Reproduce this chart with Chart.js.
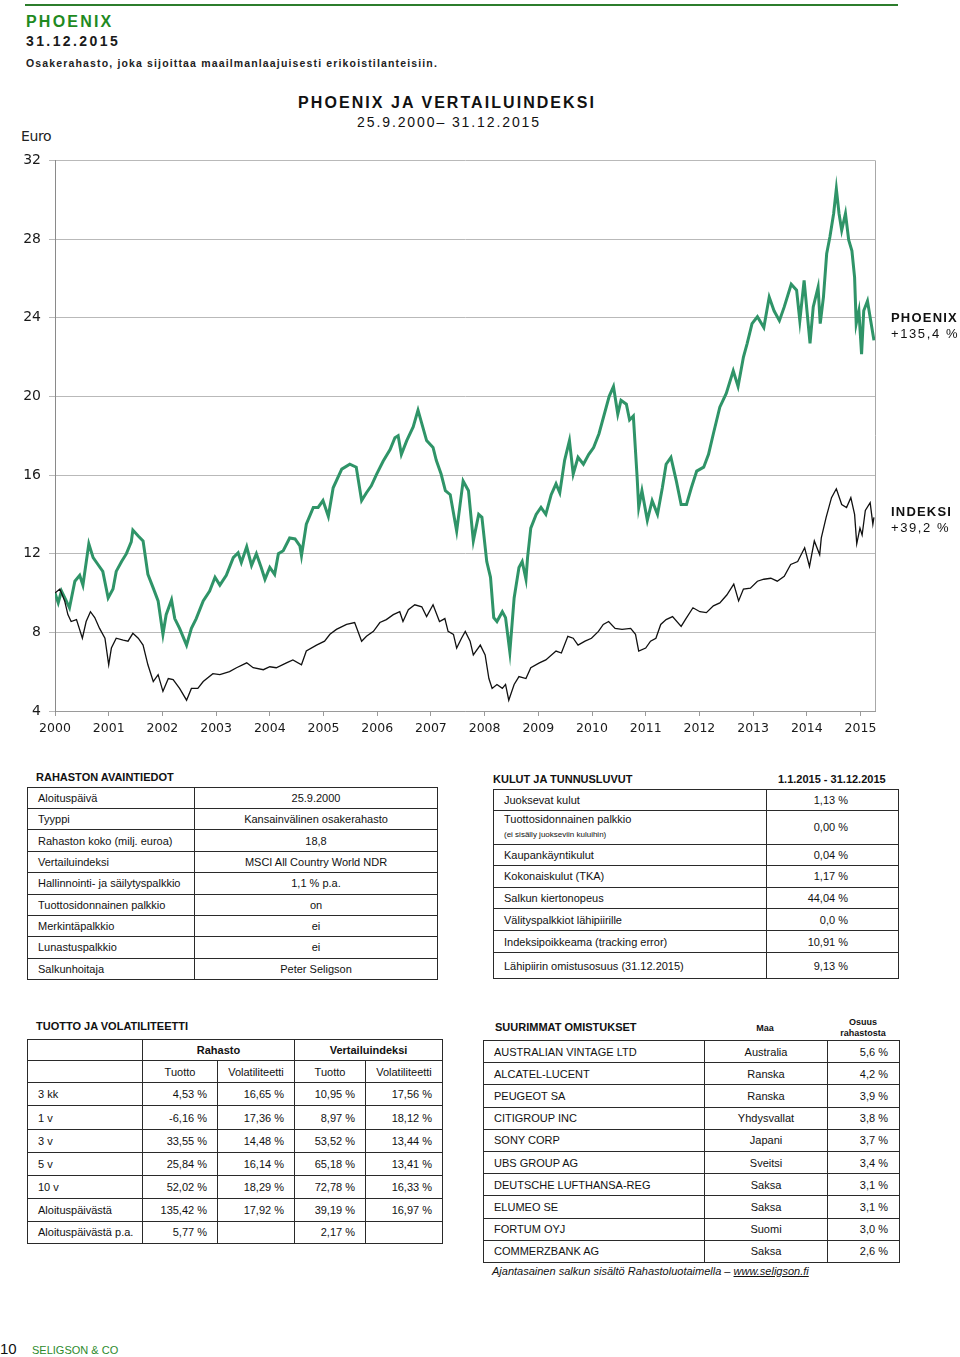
<!DOCTYPE html>
<html lang="fi">
<head>
<meta charset="utf-8">
<title>Phoenix 31.12.2015</title>
<script src="https://cdn.jsdelivr.net/npm/chart.js@4.4.1/dist/chart.umd.min.js"></script>
<style>
  html, body { margin: 0; padding: 0; background: #fff; }
  body { width: 960px; height: 1357px; position: relative; overflow: hidden; font-family: "Liberation Sans", Arial, sans-serif; color: #111; }
  .abs { position: absolute; white-space: nowrap; }
  .topline { left: 25px; top: 4px; width: 873px; height: 2px; background: #2c7d2c; }
  .fund { left: 26px; top: 13px; font-size: 16px; font-weight: bold; color: #1f8a1f; letter-spacing: 2.2px; }
  .date { left: 26px; top: 33px; font-size: 14px; font-weight: bold; color: #1a1a1a; letter-spacing: 2.4px; }
  .sub { left: 26px; top: 57px; font-size: 10.5px; font-weight: bold; color: #222; letter-spacing: 1.15px; }
  .title { left: 0; width: 894px; text-align: center; top: 94px; font-size: 16px; font-weight: bold; letter-spacing: 2.05px; color: #111; }
  .period { left: 0; width: 898px; text-align: center; top: 114px; font-size: 14px; letter-spacing: 1.9px; color: #111; }
  .euro { left: 21px; top: 128px; font-family: "DejaVu Sans", Verdana, sans-serif; font-size: 14px; color: #222; letter-spacing: -0.4px; }
  .serName { left: 891px; font-size: 13px; font-weight: bold; letter-spacing: 1.2px; color: #111; }
  .serVal { left: 891px; font-size: 13px; letter-spacing: 1.6px; color: #111; }
  #chartBox { position: absolute; left: 0; top: 144px; width: 960px; height: 596px; }
  .thead { font-size: 11px; font-weight: bold; color: #111; }
  table.t { position: absolute; border-collapse: collapse; table-layout: fixed; font-size: 11px; color: #111; }
  table.t td { border: 1.5px solid #2a2a2a; padding: 0 10px; overflow: hidden; white-space: nowrap; }
  td.c { text-align: center; }
  td.r { text-align: right; }
  td.b { font-weight: bold; }
  .small { font-size: 8px; }
  .foot { left: 492px; top: 1265px; font-size: 11px; font-style: italic; color: #111; }
  .foot u { text-decoration: underline; }
  .pageNo { left: 0; top: 1340px; font-size: 15px; color: #111; }
  .brand { left: 32px; top: 1344px; font-size: 11px; color: #2c8a2c; }
</style>
</head>
<body>
<div class="abs topline"></div>
<div class="abs fund">PHOENIX</div>
<div class="abs date">31.12.2015</div>
<div class="abs sub">Osakerahasto, joka sijoittaa maailmanlaajuisesti erikoistilanteisiin.</div>
<div class="abs title">PHOENIX JA VERTAILUINDEKSI</div>
<div class="abs period">25.9.2000– 31.12.2015</div>
<div class="abs euro">Euro</div>
<div id="chartBox"><canvas id="chart" width="960" height="596"></canvas></div>
<div class="abs serName" style="top:310px">PHOENIX</div>
<div class="abs serVal" style="top:326px">+135,4 %</div>
<div class="abs serName" style="top:504px">INDEKSI</div>
<div class="abs serVal" style="top:520px">+39,2 %</div>

<div class="abs thead" style="left:36px;top:771px">RAHASTON AVAINTIEDOT</div>
<table class="t" id="keyTable" style="left:27px;top:787px;width:410px"></table>

<div class="abs thead" style="left:493px;top:773px">KULUT JA TUNNUSLUVUT</div>
<div class="abs thead" style="left:778px;top:773px">1.1.2015 - 31.12.2015</div>
<table class="t" id="costTable" style="left:493px;top:789px;width:405px"></table>

<div class="abs thead" style="left:36px;top:1020px">TUOTTO JA VOLATILITEETTI</div>
<table class="t" id="retTable" style="left:27px;top:1039px;width:415px"></table>

<div class="abs thead" style="left:495px;top:1021px">SUURIMMAT OMISTUKSET</div>
<div class="abs thead" style="left:745px;top:1023px;font-size:9px;width:40px;text-align:center">Maa</div>
<div class="abs thead" style="left:828px;top:1017px;font-size:9px;width:70px;text-align:center;line-height:11px">Osuus<br>rahastosta</div>
<table class="t" id="holdTable" style="left:483px;top:1040px;width:416px"></table>
<div class="abs foot">Ajantasainen salkun sisältö Rahastoluotaimella – <u>www.seligson.fi</u></div>

<div class="abs pageNo">10</div>
<div class="abs brand">SELIGSON &amp; CO</div>

<script>
// ─── Chart data (years since start, value in euro) ─────────────────────────

const yearTicks = [2000, 2001, 2002, 2003, 2004, 2005, 2006, 2007, 2008, 2009, 2010, 2011, 2012, 2013, 2014, 2015];
const valueTicks = [4, 8, 12, 16, 20, 24, 28, 32];

const phoenixT = [
  0.00, 0.06, 0.12, 0.21, 0.27, 0.37, 0.46, 0.52, 0.63, 0.71, 0.80, 0.89, 0.99, 1.08, 1.14, 1.24,
  1.33, 1.42, 1.45, 1.55, 1.64, 1.73, 1.83, 1.92, 2.01, 2.07, 2.17, 2.23, 2.32, 2.45, 2.54, 2.63,
  2.76, 2.88, 2.98, 3.07, 3.19, 3.32, 3.41, 3.47, 3.57, 3.66, 3.75, 3.84, 3.91, 4.00, 4.09, 4.16,
  4.25, 4.37, 4.47, 4.56, 4.59, 4.68, 4.81, 4.90, 4.99, 5.09, 5.18, 5.34, 5.49, 5.61, 5.71, 5.80,
  5.89, 5.99, 6.11, 6.24, 6.33, 6.39, 6.45, 6.55, 6.67, 6.76, 6.92, 7.04, 7.10, 7.19, 7.27, 7.36,
  7.48, 7.60, 7.70, 7.79, 7.89, 7.95, 8.04, 8.11, 8.17, 8.23, 8.33, 8.39, 8.47, 8.55, 8.64, 8.70,
  8.77, 8.80, 8.86, 8.96, 9.05, 9.14, 9.24, 9.33, 9.40, 9.49, 9.58, 9.65, 9.74, 9.84, 9.94, 10.03,
  10.13, 10.32, 10.40, 10.48, 10.54, 10.64, 10.70, 10.77, 10.84, 10.87, 10.93, 11.03, 11.12, 11.22, 11.31, 11.38,
  11.47, 11.57, 11.66, 11.76, 11.85, 11.95, 12.08, 12.17, 12.26, 12.38, 12.50, 12.63, 12.72, 12.82, 12.89, 12.98,
  13.08, 13.20, 13.30, 13.39, 13.49, 13.58, 13.71, 13.81, 13.87, 13.95, 14.06, 14.12, 14.21, 14.25, 14.31, 14.37,
  14.43, 14.50, 14.55, 14.60, 14.65, 14.72, 14.78, 14.84, 14.89, 14.92, 14.97, 15.02, 15.06, 15.13, 15.19, 15.25
];
const phoenixV = [
  10.0, 9.5, 10.1, 9.6, 9.25, 10.6, 10.9, 10.4, 12.5, 11.8, 11.45, 11.1, 9.75, 10.2, 11.1, 11.6,
  12.0, 12.6, 13.2, 12.9, 12.65, 10.95, 10.25, 9.6, 7.9, 8.9, 9.65, 8.7, 8.2, 7.35, 8.2, 8.7,
  9.6, 10.1, 10.8, 10.4, 10.9, 11.8, 12.05, 11.55, 12.35, 11.4, 12.0, 11.3, 10.7, 11.3, 10.95, 12.0,
  12.15, 12.8, 12.75, 12.4, 11.9, 13.5, 14.35, 14.35, 14.7, 13.9, 15.35, 16.3, 16.55, 16.4, 14.7, 15.1,
  15.45, 16.05, 16.7, 17.3, 17.9, 18.0, 17.05, 17.75, 18.45, 19.3, 17.75, 17.4, 16.75, 16.05, 15.2, 15.0,
  13.15, 15.7, 15.2, 12.65, 14.0, 13.85, 11.6, 10.8, 8.75, 8.55, 9.05, 8.75, 7.0, 9.75, 11.3, 11.6,
  10.7, 11.8, 13.3, 14.0, 14.35, 14.0, 15.0, 15.55, 15.1, 16.75, 17.75, 16.05, 16.9, 16.55, 17.05, 17.4,
  18.1, 20.0, 20.5, 19.1, 19.8, 19.6, 18.8, 19.0, 15.9, 14.35, 15.2, 13.7, 14.7, 14.0, 15.35, 16.55,
  16.9, 15.7, 14.5, 14.5, 15.35, 16.2, 16.4, 17.05, 18.1, 19.45, 20.15, 21.3, 20.5, 22.0, 22.7, 23.7,
  24.05, 23.5, 25.05, 24.35, 23.85, 24.55, 25.7, 25.4, 23.85, 25.9, 22.7, 24.55, 25.55, 23.7, 25.05, 27.25,
  28.1, 29.3, 30.55, 29.3, 28.45, 29.3, 27.95, 27.4, 26.05, 23.7, 24.35, 22.15, 24.35, 24.85, 23.85, 22.85
];

const indexT = [
  0.00, 0.09, 0.18, 0.24, 0.30, 0.40, 0.51, 0.58, 0.66, 0.74, 0.83, 0.93, 1.00, 1.05, 1.14, 1.27,
  1.36, 1.45, 1.55, 1.64, 1.73, 1.83, 1.92, 2.01, 2.11, 2.20, 2.32, 2.45, 2.54, 2.66, 2.76, 2.94,
  3.07, 3.25, 3.38, 3.57, 3.69, 3.88, 4.00, 4.12, 4.31, 4.43, 4.59, 4.68, 4.87, 5.02, 5.12, 5.24,
  5.43, 5.58, 5.71, 5.80, 5.93, 6.05, 6.17, 6.30, 6.42, 6.48, 6.58, 6.70, 6.83, 6.92, 7.04, 7.16,
  7.26, 7.32, 7.42, 7.48, 7.57, 7.64, 7.73, 7.79, 7.92, 8.01, 8.08, 8.14, 8.23, 8.33, 8.39, 8.45,
  8.55, 8.64, 8.77, 8.86, 9.02, 9.14, 9.33, 9.43, 9.55, 9.65, 9.74, 9.87, 9.99, 10.12, 10.21, 10.31,
  10.43, 10.56, 10.72, 10.81, 10.87, 11.00, 11.09, 11.19, 11.28, 11.38, 11.50, 11.66, 11.75, 11.88, 12.01, 12.13,
  12.26, 12.38, 12.51, 12.64, 12.73, 12.82, 12.95, 13.08, 13.20, 13.33, 13.45, 13.58, 13.70, 13.83, 13.96, 14.05,
  14.14, 14.24, 14.27, 14.36, 14.46, 14.55, 14.65, 14.74, 14.82, 14.89, 14.93, 14.99, 15.03, 15.09, 15.18, 15.23,
  15.25
];
const indexV = [
  10.0, 10.2, 9.6, 8.9, 8.55, 8.65, 7.7, 8.55, 9.05, 8.75, 8.2, 7.7, 6.35, 7.2, 7.7, 7.6,
  7.55, 7.95, 7.7, 7.35, 6.35, 5.5, 5.85, 5.0, 5.65, 5.6, 5.15, 4.55, 5.15, 5.15, 5.5, 5.9,
  5.85, 6.0, 6.2, 6.45, 6.2, 6.1, 6.25, 6.2, 6.45, 6.6, 6.35, 7.05, 7.35, 7.55, 7.9, 8.15,
  8.4, 8.5, 7.55, 7.8, 8.05, 8.5, 8.65, 8.9, 9.05, 8.55, 9.15, 9.4, 9.3, 8.8, 9.4, 8.55,
  8.7, 8.05, 7.9, 7.2, 7.7, 8.05, 7.55, 6.85, 7.35, 6.85, 5.65, 5.15, 5.35, 5.15, 5.35, 4.55,
  5.35, 5.75, 5.65, 6.2, 6.45, 6.6, 7.05, 6.95, 7.8, 7.7, 7.35, 7.55, 7.7, 8.05, 8.4, 8.55,
  8.2, 8.15, 8.2, 7.9, 7.05, 7.2, 7.55, 7.7, 8.4, 8.65, 8.8, 8.3, 8.7, 9.25, 9.05, 9.0,
  9.35, 9.5, 9.9, 10.45, 9.6, 10.2, 10.25, 10.6, 10.7, 10.75, 10.6, 10.85, 11.45, 11.6, 12.3, 11.35,
  12.65, 11.95, 12.8, 13.85, 14.85, 15.3, 14.5, 14.35, 14.85, 14.0, 12.5, 13.3, 12.95, 14.2, 14.6, 13.5,
  13.85
];

// ─── Table data ─────────────────────────────────────────────────────────────

const keyRows = [
  ['Aloituspäivä', '25.9.2000'],
  ['Tyyppi', 'Kansainvälinen osakerahasto'],
  ['Rahaston koko (milj. euroa)', '18,8'],
  ['Vertailuindeksi', 'MSCI All Country World NDR'],
  ['Hallinnointi- ja säilytyspalkkio', '1,1 % p.a.'],
  ['Tuottosidonnainen palkkio', 'on'],
  ['Merkintäpalkkio', 'ei'],
  ['Lunastuspalkkio', 'ei'],
  ['Salkunhoitaja', 'Peter Seligson']
];
const keyHeights = [21, 21.3, 21.7, 21.3, 21.3, 21.7, 21, 21.3, 21.7];

const costRows = [
  ['Juoksevat kulut', '1,13 %'],
  ['Tuottosidonnainen palkkio<br><span class="small">(ei sisälly juokseviin kuluihin)</span>', '0,00 %'],
  ['Kaupankäyntikulut', '0,04 %'],
  ['Kokonaiskulut (TKA)', '1,17 %'],
  ['Salkun kiertonopeus', '44,04 %'],
  ['Välityspalkkiot lähipiirille', '0,0 %'],
  ['Indeksipoikkeama (tracking error)', '10,91 %'],
  ['Lähipiirin omistusosuus (31.12.2015)', '9,13 %']
];
const costHeights = [20.7, 34, 21, 22.3, 21, 22.4, 22, 25.6];

const retPeriods = ['3 kk', '1 v', '3 v', '5 v', '10 v', 'Aloituspäivästä', 'Aloituspäivästä p.a.'];
const fundReturn = ['4,53 %', '-6,16 %', '33,55 %', '25,84 %', '52,02 %', '135,42 %', '5,77 %'];
const fundVol = ['16,65 %', '17,36 %', '14,48 %', '16,14 %', '18,29 %', '17,92 %', ''];
const idxReturn = ['10,95 %', '8,97 %', '53,52 %', '65,18 %', '72,78 %', '39,19 %', '2,17 %'];
const idxVol = ['17,56 %', '18,12 %', '13,44 %', '13,41 %', '16,33 %', '16,97 %', ''];
const retHeights = [20.7, 22.7, 23, 23.3, 23.3, 23.3, 22.7, 22.7, 22.3];

const holdNames = ['AUSTRALIAN VINTAGE LTD', 'ALCATEL-LUCENT', 'PEUGEOT SA', 'CITIGROUP INC', 'SONY CORP',
  'UBS GROUP AG', 'DEUTSCHE LUFTHANSA-REG', 'ELUMEO SE', 'FORTUM OYJ', 'COMMERZBANK AG'];
const holdCountries = ['Australia', 'Ranska', 'Ranska', 'Yhdysvallat', 'Japani', 'Sveitsi', 'Saksa', 'Saksa', 'Suomi', 'Saksa'];
const holdShares = ['5,6 %', '4,2 %', '3,9 %', '3,8 %', '3,7 %', '3,4 %', '3,1 %', '3,1 %', '3,0 %', '2,6 %'];

// ─── Tables ─────────────────────────────────────────────────────────────────

function colgroup(widths) {
  return '<colgroup>' + widths.map(w => `<col style="width:${w}px">`).join('') + '</colgroup>';
}

document.getElementById('keyTable').innerHTML = colgroup([167, 243]) +
  keyRows.map((r, i) => `<tr style="height:${keyHeights[i]}px"><td>${r[0]}</td><td class="c">${r[1]}</td></tr>`).join('');

document.getElementById('costTable').innerHTML = colgroup([273, 132]) +
  costRows.map((r, i) => `<tr style="height:${costHeights[i]}px"><td style="line-height:14px">${r[0]}</td><td class="r" style="padding-right:50px">${r[1]}</td></tr>`).join('');

let retHtml = colgroup([115, 75, 77, 71, 77]);
retHtml += `<tr style="height:${retHeights[0]}px"><td></td><td class="c b" colspan="2">Rahasto</td><td class="c b" colspan="2">Vertailuindeksi</td></tr>`;
retHtml += `<tr style="height:${retHeights[1]}px"><td></td><td class="c">Tuotto</td><td class="c">Volatiliteetti</td><td class="c">Tuotto</td><td class="c">Volatiliteetti</td></tr>`;
retPeriods.forEach((p, i) => {
  retHtml += `<tr style="height:${retHeights[i + 2]}px"><td>${p}</td><td class="r">${fundReturn[i]}</td><td class="r">${fundVol[i]}</td><td class="r">${idxReturn[i]}</td><td class="r">${idxVol[i]}</td></tr>`;
});
document.getElementById('retTable').innerHTML = retHtml;

document.getElementById('holdTable').innerHTML = colgroup([221, 123, 72]) +
  holdNames.map((n, i) => `<tr style="height:22.2px"><td>${n}</td><td class="c">${holdCountries[i]}</td><td class="r" style="padding-right:11px">${holdShares[i]}</td></tr>`).join('');

// ─── Chart ──────────────────────────────────────────────────────────────────

const toPoints = (ts, vs) => ts.map((t, i) => ({ x: 2000 + t, y: vs[i] }));

// right-hand frame line of the plot area
const frameRight = {
  id: 'frameRight',
  afterDraw(chart) {
    const a = chart.chartArea;
    const ctx = chart.ctx;
    ctx.save();
    ctx.strokeStyle = '#a8a8a8';
    ctx.lineWidth = 1;
    ctx.beginPath();
    ctx.moveTo(a.right + 0.5, a.top);
    ctx.lineTo(a.right + 0.5, a.bottom);
    ctx.stroke();
    ctx.restore();
  }
};

const tickFont = { family: '"DejaVu Sans", Verdana, sans-serif', size: 14 };

new Chart(document.getElementById('chart'), {
  type: 'line',
  data: {
    datasets: [
      {
        label: 'INDEKSI',
        data: toPoints(indexT, indexV),
        borderColor: '#111111',
        borderWidth: 1.3,
        pointRadius: 0,
        tension: 0,
        fill: false
      },
      {
        label: 'PHOENIX',
        data: toPoints(phoenixT, phoenixV),
        borderColor: '#2f9468',
        borderWidth: 3,
        pointRadius: 0,
        tension: 0,
        fill: false
      }
    ]
  },
  plugins: [frameRight],
  options: {
    responsive: false,
    animation: false,
    devicePixelRatio: 1,
    layout: { padding: { left: 0, right: 85, top: 5, bottom: 0 } },
    plugins: { legend: { display: false }, tooltip: { enabled: false } },
    scales: {
      x: {
        type: 'linear',
        min: 2000,
        max: 2015.27,
        afterBuildTicks: s => { s.ticks = yearTicks.map(v => ({ value: v })); },
        afterFit: s => { s.height = 29; },
        ticks: {
          color: '#1a1a1a',
          font: { family: tickFont.family, size: 12.5 },
          padding: 5,
          maxRotation: 0,
          autoSkip: false,
          callback: v => String(v)
        },
        grid: { drawOnChartArea: false, drawTicks: true, tickLength: 5, color: '#9a9a9a' },
        border: { color: '#9a9a9a', width: 1 }
      },
      y: {
        min: 4,
        max: 32,
        afterBuildTicks: s => { s.ticks = valueTicks.map(v => ({ value: v })); },
        afterFit: s => { s.width = 55; },
        ticks: { color: '#1a1a1a', font: tickFont, padding: 8 },
        grid: { color: '#b9b9b9', lineWidth: 1, tickLength: 6 },
        border: { color: '#8a8a8a', width: 1 }
      }
    }
  }
});
</script>
</body>
</html>
